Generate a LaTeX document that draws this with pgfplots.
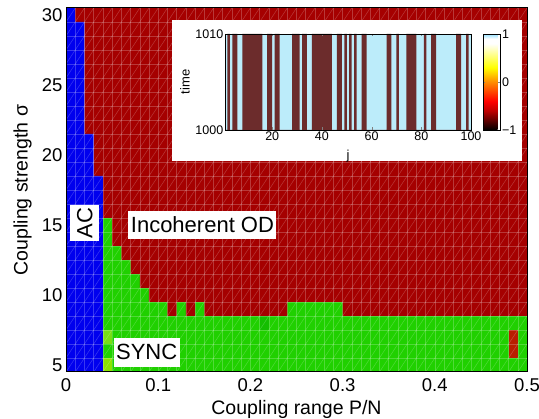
\documentclass[border=0pt]{standalone}
\usepackage{pgfplots}
\pgfplotsset{compat=1.18}
\usepackage{fontspec}
\setmainfont{Liberation Sans}

\definecolor{acblue}{RGB}{0,0,238}
\definecolor{odred}{RGB}{165,0,0}
\definecolor{syncgreen}{RGB}{32,208,0}
\definecolor{lgreenA}{RGB}{120,222,20}
\definecolor{lgreenB}{RGB}{140,228,0}
\definecolor{dgreen}{RGB}{20,190,0}
\definecolor{brred}{RGB}{185,30,0}
\definecolor{stripedark}{RGB}{108,44,44}
\definecolor{stripelight}{RGB}{188,236,250}

\tikzset{gl/.style={white, opacity=0.22, line width=0.5bp}}

\begin{document}
\begin{tikzpicture}
\useasboundingbox (0,0) rectangle (539bp,419bp);
% main phase diagram
\begin{axis}[
    at={(66bp,47bp)}, anchor=south west,
    scale only axis, width=461bp, height=364bp,
    xmin=0, xmax=0.5, ymin=4.5, ymax=30.5,
    xtick={0,0.1,0.2,0.3,0.4,0.5},
    ytick={5,10,15,20,25,30},
    major tick length=0pt,
    axis on top,
    axis line style={line width=1bp},
    /pgf/number format/assume math mode=true,
    ticklabel style={font=\fontsize{18.5bp}{20bp}\selectfont},
    xticklabel style={yshift=-3bp},
    label style={font=\fontsize{19.5bp}{22bp}\selectfont, inner sep=0pt},
    xlabel={Coupling range P/N},
    ylabel={Coupling strength σ},
    xlabel style={at={(axis description cs:0.5,-0.077)}, anchor=north},
    ylabel style={at={(axis description cs:-0.074,0.5)}, anchor=south},
]
\addplot[fill=syncgreen, draw=none] coordinates {(0.04,4.5) (0.5,4.5) (0.5,16) (0.04,16)};
\addplot[fill=odred, draw=none] coordinates {
    (0.01,30.5) (0.5,30.5) (0.5,8.5) (0.30,8.5) (0.30,9.5) (0.24,9.5) (0.24,8.5)
    (0.15,8.5) (0.15,9.5) (0.14,9.5) (0.14,8.5) (0.13,8.5) (0.13,9.5) (0.12,9.5)
    (0.12,8.5) (0.11,8.5) (0.11,9.5) (0.09,9.5) (0.09,10.5) (0.08,10.5) (0.08,11.5)
    (0.07,11.5) (0.07,12.5) (0.06,12.5) (0.06,13.5) (0.05,13.5) (0.05,15.5)
    (0.04,15.5) (0.04,18.5) (0.03,18.5) (0.03,21.5) (0.02,21.5) (0.02,29.5) (0.01,29.5)};
\addplot[fill=acblue, draw=none] coordinates {
    (0,4.5) (0.04,4.5) (0.04,18.5) (0.03,18.5) (0.03,21.5) (0.02,21.5)
    (0.02,29.5) (0.01,29.5) (0.01,30.5) (0,30.5)};
\addplot[fill=lgreenA, draw=none] coordinates {(0.04,6.5) (0.05,6.5) (0.05,7.5) (0.04,7.5)};
\addplot[fill=lgreenB, draw=none] coordinates {(0.04,4.5) (0.05,4.5) (0.05,5.5) (0.04,5.5)};
\addplot[fill=dgreen, draw=none] coordinates {(0.21,7.5) (0.22,7.5) (0.22,8.5) (0.21,8.5)};
\addplot[fill=brred, draw=none] coordinates {(0.48,5.5) (0.49,5.5) (0.49,7.5) (0.48,7.5)};
% faceted mesh
\pgfplotsinvokeforeach{1,...,49}{\draw[gl] (axis cs:{#1*0.01},4.5) -- (axis cs:{#1*0.01},30.5);}
\pgfplotsinvokeforeach{5,...,29}{\draw[gl] (axis cs:0,{#1+0.5}) -- (axis cs:0.5,{#1+0.5});}
\pgfplotsinvokeforeach{-26,...,49}{\draw[gl] (axis cs:{#1*0.01},4.5) -- (axis cs:{#1*0.01+0.26},30.5);}
% region names
\node[fill=white, inner xsep=2.5bp, inner ysep=0pt, minimum height=28.5bp,
      font=\fontsize{22bp}{24bp}\selectfont] at (axis cs:0.148,15) {Incoherent OD};
\node[fill=white, inner xsep=2.5bp, inner ysep=0pt, minimum height=28.5bp,
      font=\fontsize{22bp}{24bp}\selectfont] at (axis cs:0.0875,5.91) {SYNC};
\node[fill=white, inner xsep=2.5bp, inner ysep=0pt, minimum height=29bp, rotate=90,
      font=\fontsize{22bp}{24bp}\selectfont] at (axis cs:0.0203,15.15) {AC};
\end{axis}

\fill[white] (172bp,258bp) rectangle (522bp,399bp);

% inset: space-time plot
\begin{axis}[
    at={(225bp,289bp)}, anchor=south west,
    scale only axis, width=246bp, height=96bp,
    xmin=1, xmax=100, ymin=1000, ymax=1010,
    xtick={20,40,60,80,100}, ytick={1000,1010},
    tick align=inside, major tick length=2.5bp,
    axis on top,
    axis line style={line width=0.6bp},
    /pgf/number format/assume math mode=true,
    /pgf/number format/1000 sep={},
    ticklabel style={font=\fontsize{12.5bp}{14bp}\selectfont},
    yticklabel style={inner sep=1.5bp},
    xticklabel style={inner sep=2bp},
    label style={font=\fontsize{13bp}{15bp}\selectfont, inner sep=0pt},
    xlabel={j}, ylabel={time},
    xlabel style={at={(axis description cs:0.5,-0.208)}, anchor=north},
    ylabel style={at={(axis description cs:-0.142,0.5)}, anchor=south},
    colormap={insetmap}{rgb255(0)=(0,0,0); rgb255(20)=(190,0,0); rgb255(30)=(255,0,0);
        rgb255(50)=(255,140,0); rgb255(65)=(255,255,0); rgb255(90)=(255,255,255);
        rgb255(95)=(255,255,255); rgb255(100)=(150,225,255)},
    point meta min=-1, point meta max=1,
    colorbar,
    colorbar shift/.style={xshift=12.5bp},
    colorbar style={
        at={(parent axis.north east)}, anchor=north west,
        width=17bp, ytick={-1,0,1}, yticklabels={−1,0,1},
        yticklabel style={font=\fontsize{12.5bp}{14bp}\selectfont, inner sep=1.5bp},
        major tick length=2bp, tick align=inside,
        axis line style={line width=0.6bp}},
]
\addplot[draw=none, fill=stripelight] coordinates {(1,1000) (100,1000) (100,1010) (1,1010)};
\addplot[const plot, draw=none, fill=stripedark] coordinates {
    (1,1000) (2,1010) (3,1000) (4,1010) (6,1000) (8,1010) (16,1000) (18,1010)
    (20,1000) (21,1010) (23,1000) (28,1010) (31,1000) (32,1010) (34,1000) (36,1010)
    (44,1000) (46,1010) (48,1000) (49,1010) (50,1000) (51,1010) (52,1000) (53,1010)
    (54,1000) (56,1010) (58,1000) (66,1010) (68,1000) (70,1010) (71,1000) (74,1010)
    (78,1000) (81,1010) (82,1000) (84,1010) (86,1000) (94,1010) (96,1000) (98,1010)
    (99,1000) (100,1000)} \closedcycle;
\end{axis}
\end{tikzpicture}
\end{document}
